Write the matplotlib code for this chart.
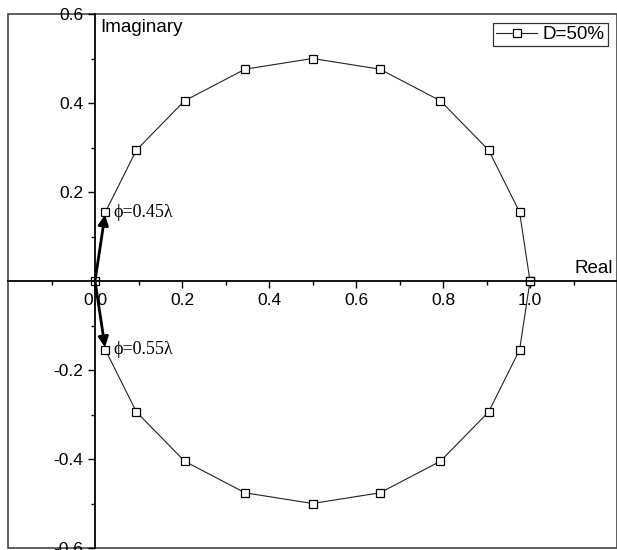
import numpy as np
import matplotlib
matplotlib.use('Agg')
import matplotlib.pyplot as plt
from matplotlib.patches import Rectangle
from matplotlib.ticker import FixedLocator

plt.rcParams['font.family'] = ['Liberation Sans', 'DejaVu Sans']

# reflection coefficient points
real = [1.0, 0.976, 0.905, 0.794, 0.655, 0.5, 0.345, 0.206, 0.095, 0.024, 0.0,
        0.024, 0.095, 0.206, 0.345, 0.5, 0.655, 0.794, 0.905, 0.976, 1.0]
imag = [0.0, 0.155, 0.294, 0.405, 0.476, 0.5, 0.476, 0.405, 0.294, 0.155, 0.0,
        -0.155, -0.294, -0.405, -0.476, -0.5, -0.476, -0.405, -0.294, -0.155, 0.0]
series_label = 'D=50%'

x_major = [0.0, 0.2, 0.4, 0.6, 0.8, 1.0]
x_minor = [-0.1, 0.1, 0.3, 0.5, 0.7, 0.9, 1.1]
y_major = [-0.6, -0.4, -0.2, 0.2, 0.4, 0.6]
y_minor = [-0.5, -0.3, -0.1, 0.1, 0.3, 0.5]

# arrows from origin to the two points next to it
arrow_targets = [(real[9], imag[9]), (real[11], imag[11])]
arrow_labels = ['\u03d5=0.45\u03bb', '\u03d5=0.55\u03bb']

fig = plt.figure(figsize=(6.17, 5.5), dpi=100)
ax = fig.add_axes([8 / 617, 2 / 550, 609 / 617, 534 / 550])

ax.plot(real, imag, '-', color='#222222', lw=0.8, marker='s', markersize=6,
        markerfacecolor='white', markeredgecolor='black', markeredgewidth=0.9,
        label=series_label)

ax.set_xlim(-0.2, 1.2)
ax.set_ylim(-0.6, 0.6)

for side in ['top', 'right']:
    ax.spines[side].set_visible(False)
ax.spines['left'].set_position(('data', 0))
ax.spines['bottom'].set_position(('data', 0))
ax.spines['left'].set_linewidth(1.3)
ax.spines['bottom'].set_linewidth(1.3)

# outer frame
ax.add_patch(Rectangle((0, 0), 1, 1, transform=ax.transAxes, fill=False,
                       edgecolor='#444444', lw=1.2, clip_on=False))

ax.xaxis.set_major_locator(FixedLocator(x_major))
ax.xaxis.set_minor_locator(FixedLocator(x_minor))
ax.yaxis.set_major_locator(FixedLocator(y_major))
ax.yaxis.set_minor_locator(FixedLocator(y_minor))
ax.set_xticklabels(['%.1f' % v for v in x_major])
ax.set_yticklabels(['%.1f' % v for v in y_major])
ax.tick_params(axis='both', which='major', direction='out', length=5, width=1,
               labelsize=12.5)
ax.tick_params(axis='both', which='minor', direction='out', length=3, width=1)

ax.text(0.012, 0.57, 'Imaginary', fontsize=13.5, ha='left', va='center')
ax.text(1.19, 0.01, 'Real', fontsize=13.5, ha='right', va='bottom')

for (tx, ty), lab in zip(arrow_targets, arrow_labels):
    ax.annotate('', xy=(tx, ty), xytext=(0, 0),
                arrowprops=dict(arrowstyle='-|>', color='black', lw=2.0,
                                mutation_scale=15, shrinkA=0, shrinkB=2))
    ax.text(tx + 0.018, ty, lab, fontsize=13, family=['Liberation Serif', 'DejaVu Serif'],
            ha='left', va='center')

leg = ax.legend(loc='upper right', fontsize=13.5, frameon=True, fancybox=False,
                borderpad=0.15, handlelength=2.2, handletextpad=0.3,
                borderaxespad=0.5)
leg.get_frame().set_edgecolor('black')
leg.get_frame().set_linewidth(0.9)

fig.savefig('out.png', dpi=100)
